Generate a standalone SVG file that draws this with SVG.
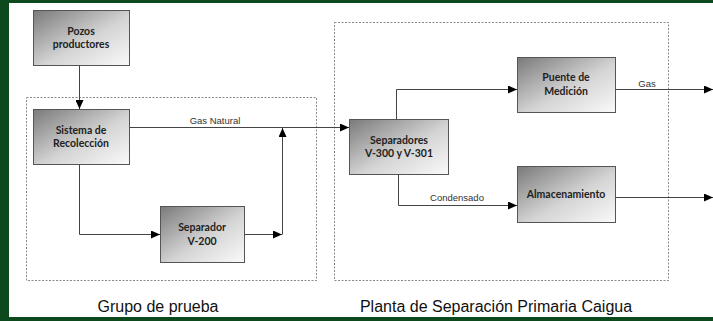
<svg xmlns="http://www.w3.org/2000/svg" width="713" height="321" viewBox="0 0 713 321">
<defs>
<linearGradient id="g" x1="0" y1="0" x2="1" y2="1">
<stop offset="0" stop-color="#7a7a7a"/>
<stop offset="0.55" stop-color="#d4d4d4"/>
<stop offset="1" stop-color="#fafafa"/>
</linearGradient>
<marker id="a" markerWidth="9" markerHeight="8" refX="9" refY="4" orient="auto" markerUnits="userSpaceOnUse">
<path d="M0,0 L9,4 L0,8 Z" fill="#000"/>
</marker>
<style>
.box{fill:url(#g);stroke:#555;stroke-width:1}
.bt{font-family:Lato,"Open Sans","Liberation Sans",sans-serif;font-weight:bold;font-size:10.5px;fill:#222;text-anchor:middle}
.el{font-family:"Liberation Sans",Arial,sans-serif;font-size:9.5px;fill:#333;text-anchor:middle}
.cap{font-family:"Liberation Sans",Arial,sans-serif;font-size:16px;fill:#111;text-anchor:middle}
.dash{fill:none;stroke:#888;stroke-width:1;stroke-dasharray:2,1.5}
.c{fill:none;stroke:#444;stroke-width:1}
</style>
</defs>
<rect x="0" y="0" width="713" height="321" fill="#0c4a1e"/>
<rect x="9" y="3" width="704" height="314" fill="#ffffff"/>
<rect class="dash" x="26.5" y="97.5" width="290" height="183"/>
<rect class="dash" x="334.5" y="22.5" width="334" height="258"/>
<g id="pozos"><rect class="box" x="33.5" y="10.5" width="96" height="55"/><text class="bt" x="81" y="35">Pozos</text><text class="bt" x="81" y="48">productores</text></g>
<g id="sistema"><rect class="box" x="33.5" y="109.5" width="96" height="55"/><text class="bt" x="81" y="134">Sistema de</text><text class="bt" x="81" y="147">Recolección</text></g>
<g id="v200"><rect class="box" x="160.5" y="206.5" width="84" height="56"/><text class="bt" x="202" y="231">Separador</text><text class="bt" x="202" y="245">V-200</text></g>
<g id="separadores"><rect class="box" x="349.5" y="119.5" width="99" height="55"/><text class="bt" x="399" y="144">Separadores</text><text class="bt" x="399" y="157">V-300 y V-301</text></g>
<g id="puente"><rect class="box" x="517.5" y="57.5" width="98" height="55"/><text class="bt" x="566" y="81">Puente de</text><text class="bt" x="566" y="95">Medición</text></g>
<g id="almacenamiento"><rect class="box" x="517.5" y="166.5" width="98" height="56"/><text class="bt" x="566" y="198">Almacenamiento</text></g>
<g id="connectors">
<path class="c" d="M79.5,65.5 V109" marker-end="url(#a)"/>
<path class="c" d="M129.5,127.5 H349" marker-end="url(#a)"/>
<path class="c" d="M79.5,164.5 V234.5 H160" marker-end="url(#a)"/>
<path class="c" d="M244.5,234.5 H282" marker-end="url(#a)"/>
<path class="c" d="M282.5,234.5 V128" marker-end="url(#a)"/>
<path class="c" d="M396.5,119.5 V89.5 H517" marker-end="url(#a)"/>
<path class="c" d="M398.5,174.5 V205.5 H517" marker-end="url(#a)"/>
<path class="c" d="M615.5,89.5 H713" marker-end="url(#a)"/>
<path class="c" d="M615.5,197.5 H713" marker-end="url(#a)"/>
<text class="el" x="215" y="124">Gas Natural</text>
<text class="el" x="647" y="87">Gas</text>
<text class="el" x="457" y="201">Condensado</text>
</g>
<text class="cap" x="158" y="312">Grupo de prueba</text>
<text class="cap" x="496" y="312">Planta de Separación Primaria Caigua</text>
</svg>
